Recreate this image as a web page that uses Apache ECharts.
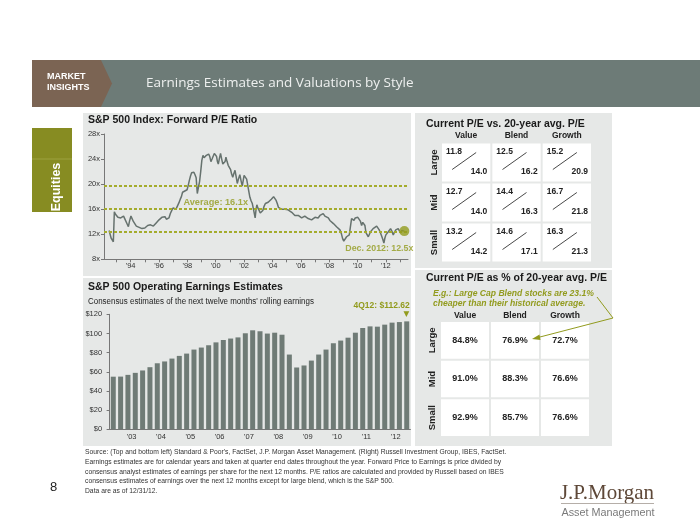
<!DOCTYPE html>
<html><head><meta charset="utf-8">
<script src="https://cdn.jsdelivr.net/npm/echarts@6/dist/echarts.min.js"></script>
<style>html,body{margin:0;padding:0;background:#fff}#c{width:700px;height:525px}</style>
</head><body><div id="c"></div>
<script>
// ---------- Data ----------
const peDates = [1992.48,1992.55,1992.62,1992.70,1992.78,1992.85,1992.93,1993.00,1993.10,1993.20,1993.30,1993.40,1993.50,1993.58,1993.66,1993.76,1993.84,1993.92,1994.02,1994.10,1994.20,1994.30,1994.40,1994.50,1994.60,1994.70,1994.80,1994.90,1995.00,1995.10,1995.20,1995.30,1995.40,1995.50,1995.60,1995.70,1995.80,1995.90,1996.00,1996.10,1996.20,1996.30,1996.42,1996.52,1996.60,1996.70,1996.80,1996.90,1997.00,1997.10,1997.20,1997.30,1997.40,1997.50,1997.58,1997.66,1997.74,1997.82,1997.90,1997.98,1998.06,1998.14,1998.22,1998.30,1998.38,1998.46,1998.54,1998.62,1998.70,1998.78,1998.86,1998.94,1999.02,1999.10,1999.18,1999.26,1999.34,1999.42,1999.50,1999.58,1999.66,1999.74,1999.82,1999.90,2000.00,2000.06,2000.12,2000.18,2000.26,2000.34,2000.42,2000.50,2000.58,2000.66,2000.72,2000.80,2000.88,2000.96,2001.05,2001.12,2001.20,2001.28,2001.36,2001.44,2001.52,2001.60,2001.70,2001.78,2001.87,2001.94,2002.00,2002.08,2002.18,2002.26,2002.32,2002.41,2002.50,2002.58,2002.66,2002.73,2002.78,2002.84,2002.90,2002.97,2003.06,2003.14,2003.24,2003.32,2003.40,2003.50,2003.60,2003.70,2003.82,2003.92,2004.00,2004.08,2004.17,2004.26,2004.34,2004.42,2004.53,2004.63,2004.77,2004.88,2005.00,2005.10,2005.24,2005.36,2005.47,2005.58,2005.70,2005.82,2005.94,2006.06,2006.17,2006.28,2006.40,2006.52,2006.64,2006.76,2006.88,2007.00,2007.10,2007.22,2007.35,2007.46,2007.58,2007.70,2007.82,2007.94,2008.05,2008.18,2008.30,2008.41,2008.52,2008.64,2008.76,2008.86,2008.95,2009.03,2009.10,2009.17,2009.23,2009.33,2009.42,2009.50,2009.58,2009.66,2009.75,2009.84,2009.93,2010.02,2010.12,2010.20,2010.29,2010.37,2010.45,2010.52,2010.60,2010.68,2010.76,2010.84,2010.92,2011.00,2011.10,2011.22,2011.35,2011.44,2011.53,2011.62,2011.70,2011.78,2011.86,2011.93,2012.00,2012.08,2012.17,2012.25,2012.33,2012.42,2012.52,2012.60,2012.70,2012.78,2012.87,2012.95,2013.03,2013.12,2013.20,2013.30];
const peValues = [12.6,12.0,11.4,11.1,10.8,15.6,15.2,14.9,14.7,14.9,14.6,14.8,14.9,14.5,14.2,13.6,13.2,14.1,14.9,14.6,14.0,13.7,13.3,13.6,13.1,13.3,12.9,12.8,13.0,13.1,13.4,13.2,13.5,13.6,13.3,13.5,13.8,13.9,14.3,14.5,14.7,14.8,14.8,14.4,14.1,14.6,15.3,15.8,16.2,16.5,16.0,16.2,17.0,17.6,18.0,18.7,18.4,18.9,18.6,19.1,19.8,20.6,21.3,21.8,21.6,21.9,21.5,21.0,18.5,19.5,20.4,22.0,23.8,24.6,24.2,24.0,24.6,24.3,24.8,24.4,23.6,24.0,24.3,24.9,25.2,24.4,23.6,23.2,24.1,24.9,24.0,23.2,23.0,23.6,24.3,23.6,23.0,23.1,22.3,21.6,21.1,21.7,22.2,21.2,20.1,20.8,21.5,20.6,19.7,20.6,21.4,21.2,20.8,19.8,19.0,17.9,17.3,16.9,16.0,15.2,14.6,15.9,16.7,16.2,15.8,15.4,15.3,15.8,16.4,16.9,17.2,17.1,17.3,17.6,17.8,18.0,18.0,17.4,16.9,16.3,16.1,16.0,15.8,16.0,16.2,15.9,15.6,15.5,15.3,15.0,14.8,15.0,14.9,14.6,14.7,14.9,14.8,14.5,14.2,14.3,14.5,14.7,14.8,14.6,15.0,15.2,15.3,14.9,14.7,14.6,14.2,13.9,13.7,13.5,13.2,13.0,12.7,12.1,11.3,10.9,10.6,11.0,11.6,11.8,11.9,13.2,14.5,14.4,14.2,14.6,14.9,14.7,14.5,14.1,13.4,13.9,14.2,13.4,12.2,11.9,11.6,12.0,12.4,12.5,12.9,13.1,13.3,13.0,12.7,12.2,11.7,11.2,10.6,11.4,11.9,12.2,12.4,12.7,12.9,12.5,11.9,12.3,12.7,12.8,12.9,12.6,12.2,12.6,12.4,12.5];
const peBands = [19.8, 16.1, 12.4];          // +1 sd, 20-yr average, -1 sd
const peLatest = 12.5;
const peTickYears = [1993,1994,1995,1996,1997,1998,1999,2000,2001,2002,2003,2004,2005,2006,2007,2008,2009,2010,2011,2012,2013];
const peLabelYears = [1994,1996,1998,2000,2002,2004,2006,2008,2010,2012];

const quarters = ['4Q02','1Q03','2Q03','3Q03','4Q03','1Q04','2Q04','3Q04','4Q04','1Q05','2Q05','3Q05','4Q05','1Q06','2Q06','3Q06','4Q06','1Q07','2Q07','3Q07','4Q07','1Q08','2Q08','3Q08','4Q08','1Q09','2Q09','3Q09','4Q09','1Q10','2Q10','3Q10','4Q10','1Q11','2Q11','3Q11','4Q11','1Q12','2Q12','3Q12','4Q12'];
const earnings = [54.9,55.0,56.8,58.9,61.4,64.8,68.9,70.8,73.8,76.6,79.0,83.2,85.3,87.7,90.7,93.2,94.7,95.9,100.2,103.3,102.3,99.9,100.8,98.7,78.0,64.5,66.6,71.7,78.0,83.2,89.8,92.6,95.6,100.8,105.7,107.4,107.1,109.2,111.3,111.9,112.62];
const earningsYearLabels = ["'03","'04","'05","'06","'07","'08","'09","'10","'11","'12"];

const styles = ['Value','Blend','Growth'];
const sizes = ['Large','Mid','Small'];
const currentPE = [[11.8,12.5,15.2],[12.7,14.4,16.7],[13.2,14.6,16.3]];
const avgPE     = [[14.0,16.2,20.9],[14.0,16.3,21.8],[14.2,17.1,21.3]];
const pctOfAvg  = [[84.8,76.9,72.7],[91.0,88.3,76.6],[92.9,85.7,76.6]];

// ---------- Styling ----------
const OLIVE = '#929b1e';
const LINE = '#66726e';
const BAR = '#6f7b76';
const PANEL = '#e6e8e7';
const F = '"Liberation Sans", Arial, sans-serif';

const peData = peDates.map((d, i) => [d, peValues[i]]);
const tableData1 = [], tableData2 = [];
sizes.forEach((s, r) => styles.forEach((st, c) => {
  tableData1.push([c, r, currentPE[r][c], avgPE[r][c]]);
  tableData2.push([c, r, pctOfAvg[r][c]]);
}));

function peCell(params, api) {
  const c = api.coord([api.value(0), api.value(1)]);
  const s = api.size([1, 1]);
  const w = s[0] - 2, h = s[1] - 2;
  const x0 = c[0] - w / 2, y0 = c[1] - h / 2;
  const font = 'bold 8.5px ' + F;
  return {type: 'group', children: [
    {type: 'rect', shape: {x: x0, y: y0, width: w, height: h}, style: {fill: '#ffffff'}},
    {type: 'line', shape: {x1: c[0] - 14, y1: c[1] + 7, x2: c[0] + 10, y2: c[1] - 10}, style: {stroke: '#333', lineWidth: 0.9}},
    {type: 'text', x: x0 + 4, y: y0 + 8.5, style: {text: api.value(2).toFixed(1), font: font, fill: '#222', align: 'left', verticalAlign: 'middle'}},
    {type: 'text', x: x0 + w - 3, y: y0 + h - 9.5, style: {text: api.value(3).toFixed(1), font: font, fill: '#222', align: 'right', verticalAlign: 'middle'}}
  ]};
}
function pctCell(params, api) {
  const c = api.coord([api.value(0), api.value(1)]);
  const s = api.size([1, 1]);
  const w = s[0] - 2, h = s[1] - 2;
  return {type: 'group', children: [
    {type: 'rect', shape: {x: c[0] - w / 2, y: c[1] - h / 2, width: w, height: h}, style: {fill: '#ffffff'}},
    {type: 'text', x: c[0], y: c[1], style: {text: api.value(2).toFixed(1) + '%', font: 'bold 9px ' + F, fill: '#222', align: 'center', verticalAlign: 'middle'}}
  ]};
}

const sourceLines = [
  "Source: (Top and bottom left) Standard & Poor's, FactSet, J.P. Morgan Asset Management. (Right) Russell Investment Group, IBES, FactSet.",
  "Earnings estimates are for calendar years and taken at quarter end dates throughout the year. Forward Price to Earnings is price divided by",
  "consensus analyst estimates of earnings per share for the next 12 months. P/E ratios are calculated and provided by Russell based on IBES",
  "consensus estimates of earnings over the next 12 months except for large blend, which is the S&P 500.",
  "Data are as of 12/31/12."
];

const txt = (x, y, text, font, fill, extra, sx) => Object.assign({type: 'text', x: x, y: y, z: 10, scaleX: sx || 1,
  style: Object.assign({text: text, font: font, fill: fill, align: 'left', verticalAlign: 'middle'}, extra || {})});

const graphics = [
  // header band
  {type: 'rect', z: -10, shape: {x: 32, y: 60, width: 668, height: 47}, style: {fill: '#6d7b77'}},
  {type: 'polygon', z: -9, shape: {points: [[32, 60], [101, 60], [112, 83.5], [101, 107], [32, 107]]}, style: {fill: '#7b6453'}},
  txt(47, 77, 'MARKET', 'bold 9px ' + F, '#ffffff'),
  txt(47, 88, 'INSIGHTS', 'bold 9px ' + F, '#ffffff'),
  txt(146, 83, 'Earnings Estimates and Valuations by Style', '13.5px "Open Sans", sans-serif', '#eef0ef'),
  // Equities tab
  {type: 'rect', z: -10, shape: {x: 32, y: 128, width: 40, height: 84}, style: {fill: '#878c22'}},
  {type: 'line', z: -9, shape: {x1: 32, y1: 159, x2: 72, y2: 159}, style: {stroke: '#9ca13f', lineWidth: 1}},
  {type: 'text', x: 57, y: 187, rotation: Math.PI / 2, z: 10, style: {text: 'Equities', font: 'bold 12.5px ' + F, fill: '#ffffff', align: 'center', verticalAlign: 'middle'}},
  // panels
  {type: 'rect', z: -10, shape: {x: 83, y: 113, width: 328, height: 163}, style: {fill: PANEL}},
  {type: 'rect', z: -10, shape: {x: 83, y: 278, width: 328, height: 168}, style: {fill: PANEL}},
  {type: 'rect', z: -10, shape: {x: 415, y: 113, width: 197, height: 155}, style: {fill: PANEL}},
  {type: 'rect', z: -10, shape: {x: 415, y: 270, width: 197, height: 176}, style: {fill: PANEL}},
  // titles
  txt(88, 120, 'S&P 500 Index: Forward P/E Ratio', 'bold 10.5px ' + F, '#1a1a1a'),
  txt(88, 287.5, 'S&P 500 Operating Earnings Estimates', 'bold 10.5px ' + F, '#1a1a1a'),
  txt(88, 301.5, "Consensus estimates of the next twelve months' rolling earnings", '8.5px ' + F, '#222', null, 0.935),
  txt(426, 124.5, 'Current P/E vs. 20-year avg. P/E', 'bold 10.5px ' + F, '#1a1a1a'),
  txt(426, 278.5, 'Current P/E as % of 20-year avg. P/E', 'bold 10.5px ' + F, '#1a1a1a'),
  txt(433, 293.5, 'E.g.: Large Cap Blend stocks are 23.1%', 'italic bold 8.6px ' + F, OLIVE),
  txt(433, 303.5, 'cheaper than their historical average.', 'italic bold 8.6px ' + F, OLIVE),
  // annotation arrow
  {type: 'polyline', z: 10, shape: {points: [[597, 297], [613, 318], [538, 337.5]]}, style: {stroke: OLIVE, lineWidth: 1, fill: null}},
  {type: 'polygon', z: 10, shape: {points: [[532, 339], [539.5, 334.5], [540.5, 340]]}, style: {fill: OLIVE}},
  // footer
  txt(50, 487, '8', '13px ' + F, '#222'),
  {type: 'text', x: 607, y: 493, z: 10, style: {text: 'J.P.Morgan', font: '21px "Liberation Serif", serif', fill: '#5e4838', align: 'center', verticalAlign: 'middle'}},
  {type: 'line', z: 10, shape: {x1: 561, y1: 503.5, x2: 654, y2: 503.5}, style: {stroke: '#b5aea8', lineWidth: 1}},
  {type: 'text', x: 608, y: 513, z: 10, scaleX: 0.94, style: {text: 'Asset Management', font: '11.5px ' + F, fill: '#7a7a7a', align: 'center', verticalAlign: 'middle'}}
];
sourceLines.forEach((l, i) => graphics.push(txt(85, 452 + i * 9.8, l, '7.5px ' + F, '#333', null, 0.9)));

const axisLab = {fontFamily: F, fontSize: 7.5, color: '#333'};

const chart = echarts.init(document.getElementById('c'), null, {renderer: 'canvas'});
chart.setOption({
  animation: false,
  backgroundColor: '#ffffff',
  graphic: graphics,
  grid: [
    {left: 104, top: 134, width: 304, height: 125.3},
    {left: 109.6, top: 314.3, width: 300.8, height: 115},
    {left: 441, top: 142.5, width: 151, height: 120},
    {left: 440, top: 321, width: 150, height: 116}
  ],
  xAxis: [
    {type: 'value', gridIndex: 0, min: 1992.12, max: 2013.56, splitLine: {show: false},
     axisLine: {lineStyle: {color: '#777'}},
     axisTick: {length: 3, lineStyle: {color: '#777'}, customValues: peTickYears},
     axisLabel: Object.assign({margin: 3, customValues: peLabelYears, formatter: v => "'" + String(v).slice(2)}, axisLab)},
    {type: 'category', gridIndex: 1, data: quarters, boundaryGap: true,
     axisLine: {lineStyle: {color: '#777'}}, axisTick: {show: false},
     axisLabel: {interval: (i) => i % 4 === 2, margin: 4,
       formatter: (v, i) => '{y|' + earningsYearLabels[(i - 2) / 4] + '}',
       rich: {y: Object.assign({padding: [0, 0, 0, 7.3]}, axisLab)}}},
    {type: 'category', gridIndex: 2, data: styles, position: 'top', axisLine: {show: false}, axisTick: {show: false},
     axisLabel: {margin: 2, fontFamily: F, fontSize: 8.5, fontWeight: 'bold', color: '#222'}},
    {type: 'category', gridIndex: 3, data: styles, position: 'top', axisLine: {show: false}, axisTick: {show: false},
     axisLabel: {margin: 1, fontFamily: F, fontSize: 8.5, fontWeight: 'bold', color: '#222'}}
  ],
  yAxis: [
    {type: 'value', gridIndex: 0, min: 8, max: 28, interval: 4, splitLine: {show: false},
     axisLine: {show: true, lineStyle: {color: '#777'}}, axisTick: {show: true, length: 3, lineStyle: {color: '#777'}},
     axisLabel: Object.assign({margin: 4, formatter: '{value}x'}, axisLab)},
    {type: 'value', gridIndex: 1, min: 0, max: 120, interval: 20, splitLine: {show: false},
     axisLine: {show: true, lineStyle: {color: '#777'}}, axisTick: {show: true, length: 3, lineStyle: {color: '#777'}},
     axisLabel: Object.assign({margin: 7.5, formatter: '${value}'}, axisLab)},
    {type: 'category', gridIndex: 2, data: sizes, inverse: true, axisLine: {show: false}, axisTick: {show: false},
     axisLabel: {rotate: 90, margin: 2, fontFamily: F, fontSize: 9.5, fontWeight: 'bold', color: '#222'}},
    {type: 'category', gridIndex: 3, data: sizes, inverse: true, axisLine: {show: false}, axisTick: {show: false},
     axisLabel: {rotate: 90, margin: 3, fontFamily: F, fontSize: 9.5, fontWeight: 'bold', color: '#222'}}
  ],
  series: [
    {type: 'line', xAxisIndex: 0, yAxisIndex: 0, data: peData, showSymbol: false, z: 3,
     lineStyle: {color: LINE, width: 1.5},
     markLine: {silent: true, symbol: ['none', 'none'], label: {show: false},
       lineStyle: {color: '#a4ac2c', width: 2, type: [3, 2]},
       data: peBands.map(v => ({yAxis: v}))}},
    {type: 'scatter', xAxisIndex: 0, yAxisIndex: 0, symbolSize: 0, z: 5,
     data: [[2000.0, peBands[1]]],
     label: {show: true, position: 'top', distance: 1.5, formatter: 'Average: ' + peBands[1] + 'x',
       fontFamily: F, fontSize: 9.2, fontWeight: 'bold', color: OLIVE}},
    {type: 'scatter', xAxisIndex: 0, yAxisIndex: 0, symbolSize: 10, z: 6, itemStyle: {color: OLIVE},
     data: [[peDates[peDates.length - 1], peLatest]],
     label: {show: true, position: 'bottom', distance: 8, align: 'right', offset: [9, 0],
       formatter: 'Dec. 2012: ' + peLatest + 'x', fontFamily: F, fontSize: 8.8, fontWeight: 'bold', color: OLIVE}},
    {type: 'bar', xAxisIndex: 1, yAxisIndex: 1, data: earnings.map((v, i) => i === earnings.length - 1 ? {value: v,
       label: {show: true, position: 'top', distance: 3, align: 'right', offset: [3, 0],
         formatter: '{a|4Q12: $' + v.toFixed(2) + '}\n{b|▼}',
         rich: {a: {fontFamily: F, fontSize: 8.5, fontWeight: 'bold', color: OLIVE, lineHeight: 10, align: 'right'},
                b: {fontFamily: 'DejaVu Sans', fontSize: 7.5, color: OLIVE, lineHeight: 8, align: 'right', padding: [0, 0.5, 0, 0]}}}} : v),
     barWidth: 5, itemStyle: {color: BAR}},
    {type: 'custom', xAxisIndex: 2, yAxisIndex: 2, renderItem: peCell, data: tableData1},
    {type: 'custom', xAxisIndex: 3, yAxisIndex: 3, renderItem: pctCell, data: tableData2}
  ]
});
</script></body></html>
